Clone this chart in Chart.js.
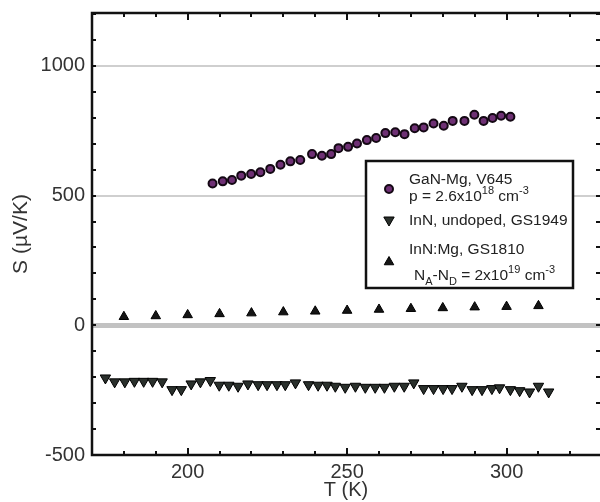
<!DOCTYPE html>
<html lang="en">
<head>
<meta charset="UTF-8">
<title>Seebeck coefficient vs temperature</title>
<style>
    body { margin: 0; background: #fff; }
    canvas { display: block; }
</style>
<script src="https://cdn.jsdelivr.net/npm/chart.js"></script>
</head>
<body>
<canvas id="chart" width="600" height="502"></canvas>
<script>
// GaN-Mg, V645 (circles)
const ganT = [207.8, 211.0, 213.9, 216.8, 219.9, 222.8, 225.9, 229.1, 232.2, 235.3, 239.0, 242.1, 245.0, 247.3, 250.3, 253.1,
              256.2, 259.1, 262.0, 265.1, 268.0, 271.2, 274.0, 277.1, 280.3, 283.1, 286.8, 289.9, 292.8, 295.6, 298.3, 301.2];
const ganS = [547, 555, 560, 577, 583, 590, 603, 619, 632, 637, 660, 654, 660, 683, 688, 701,
              714, 722, 741, 744, 737, 760, 763, 778, 769, 788, 788, 812, 788, 799, 808, 804];

// InN, undoped, GS1949 (down triangles)
const innT = [174.2, 177.1, 180.3, 183.3, 186.2, 189.0, 192.0, 195.1, 198.0, 201.1, 204.0, 207.1, 209.9, 212.9, 215.8, 218.9,
              222.1, 224.9, 228.0, 230.6, 233.8, 237.9, 240.9, 243.7, 246.3, 249.4, 252.6, 255.7, 258.8, 261.7, 264.8, 267.9,
              270.9, 274.0, 277.1, 280.1, 282.9, 286.0, 289.2, 292.3, 295.4, 297.8, 301.2, 304.1, 307.2, 310.0, 313.2];
const innS = [-203, -218, -218, -216, -216, -216, -218, -248, -248, -226, -218, -213, -231, -231, -235, -226,
              -229, -229, -229, -229, -222, -229, -231, -231, -235, -239, -235, -239, -239, -239, -235, -235,
              -222, -244, -244, -244, -244, -235, -248, -248, -244, -241, -248, -252, -257, -235, -257];

// InN:Mg, GS1810 (up triangles)
const mgT = [180, 190, 200, 210, 220, 230, 240, 250, 260, 270, 280, 290, 300, 310];
const mgS = [33, 36, 40, 44, 47, 51, 54, 57, 61, 64, 67, 70, 72, 75];

const xTicks = [200, 250, 300];
const yTicks = [-500, 0, 500, 1000];

const FONT = '"Liberation Sans", Arial, Helvetica, sans-serif';

function pts(xs, ys) {
    return xs.map((x, i) => ({ x: x, y: ys[i] }));
}

// draws text pieces with super/subscripts
function drawRich(ctx, parts, x, y) {
    parts.forEach(([t, k]) => {
        ctx.font = (k ? '11px ' : '15.5px ') + FONT;
        const dy = k === 'sup' ? -7 : (k === 'sub' ? 5 : 0);
        ctx.fillText(t, x, y + dy);
        x += ctx.measureText(t).width;
    });
}

const framePlugin = {
    id: 'frame',
    afterDraw(chart) {
        const ctx = chart.ctx;
        const a = chart.chartArea;
        const xs = chart.scales.x, ys = chart.scales.y;
        ctx.save();
        ctx.strokeStyle = '#111';

        // ticks, all pointing inward
        ctx.lineWidth = 2;
        ctx.beginPath();
        for (let v = 180; v <= xs.max; v += 10) {
            const px = Math.round(xs.getPixelForValue(v));
            const len = v % 50 === 0 ? 7 : 4;
            ctx.moveTo(px, a.bottom); ctx.lineTo(px, a.bottom - len);
            ctx.moveTo(px, a.top); ctx.lineTo(px, a.top + len);
        }
        for (let v = -400; v <= ys.max; v += 100) {
            const py = Math.round(ys.getPixelForValue(v));
            ctx.moveTo(a.left, py); ctx.lineTo(a.left + 4, py);
            ctx.moveTo(a.right, py); ctx.lineTo(a.right - 4, py);
        }
        ctx.stroke();

        // frame (no right side)
        ctx.lineWidth = 2.5;
        ctx.beginPath();
        ctx.moveTo(a.right, a.top);
        ctx.lineTo(a.left, a.top);
        ctx.lineTo(a.left, a.bottom);
        ctx.lineTo(a.right, a.bottom);
        ctx.stroke();

        // legend box
        ctx.fillStyle = '#fff';
        ctx.fillRect(366, 161, 207, 127);
        ctx.lineWidth = 2.5;
        ctx.strokeRect(366, 161, 207, 127);

        const ds = chart.data.datasets;
        const mk = (d, y) => {
            ctx.fillStyle = d.backgroundColor;
            ctx.strokeStyle = d.borderColor;
            ctx.lineWidth = d.borderWidth;
            Chart.helpers.drawPoint(ctx, {
                pointStyle: d.pointStyle, rotation: d.rotation || 0, radius: d.pointRadius, borderWidth: d.borderWidth
            }, 389, y);
        };
        mk(ds[0], 189);
        mk(ds[1], 220);
        mk(ds[2], 262);

        ctx.fillStyle = '#222';
        ctx.textBaseline = 'alphabetic';
        ctx.textAlign = 'left';
        drawRich(ctx, [['GaN-Mg, V645', '']], 409, 184);
        drawRich(ctx, [['p = 2.6x10', ''], ['18', 'sup'], [' cm', ''], ['-3', 'sup']], 409, 201);
        drawRich(ctx, [['InN, undoped, GS1949', '']], 409, 225);
        drawRich(ctx, [['InN:Mg, GS1810', '']], 409, 254);
        drawRich(ctx, [['N', ''], ['A', 'sub'], ['-N', ''], ['D', 'sub'], [' = 2x10', ''], ['19', 'sup'], [' cm', ''], ['-3', 'sup']], 414, 280);
        ctx.restore();
    }
};

const tickFont = { family: FONT, size: 20 };

new Chart(document.getElementById('chart').getContext('2d'), {
    type: 'scatter',
    data: {
        datasets: [
            {
                label: 'GaN-Mg, V645',
                data: pts(ganT, ganS),
                pointStyle: 'circle',
                pointRadius: 4,
                borderWidth: 2,
                backgroundColor: '#6e3074',
                borderColor: '#140814'
            },
            {
                label: 'InN, undoped, GS1949',
                data: pts(innT, innS),
                pointStyle: 'triangle',
                rotation: 180,
                pointRadius: 6,
                borderWidth: 1,
                backgroundColor: '#2a302c',
                borderColor: '#000'
            },
            {
                label: 'InN:Mg, GS1810',
                data: pts(mgT, mgS),
                pointStyle: 'triangle',
                pointRadius: 5.5,
                borderWidth: 1,
                backgroundColor: '#151515',
                borderColor: '#000'
            }
        ]
    },
    options: {
        responsive: false,
        animation: false,
        layout: { autoPadding: false, padding: { top: 13, left: 0, right: 0, bottom: 0 } },
        plugins: { legend: { display: false }, tooltip: { enabled: false } },
        scales: {
            x: {
                type: 'linear',
                min: 170,
                max: 329.3,
                afterBuildTicks: s => { s.ticks = xTicks.map(v => ({ value: v })); },
                afterFit: s => { s.height = 47; s.paddingLeft = 0; s.paddingRight = 0; },
                grid: { display: false, drawTicks: false },
                border: { display: false },
                ticks: { padding: 5, color: '#333', font: tickFont, callback: v => String(v) },
                title: { display: true, text: 'T (K)', color: '#333', font: tickFont, padding: { top: 0, bottom: 0 } }
            },
            y: {
                min: -500,
                max: 1204,
                afterBuildTicks: s => { s.ticks = yTicks.map(v => ({ value: v })); },
                afterFit: s => { s.width = 92; s.paddingTop = 0; s.paddingBottom = 0; },
                grid: {
                    drawTicks: false,
                    color: c => c.tick.value === -500 ? 'rgba(0,0,0,0)' : (c.tick.value === 0 ? '#c2c2c2' : '#cfcfcf'),
                    lineWidth: c => c.tick.value === 0 ? 5 : 2
                },
                border: { display: false },
                ticks: { padding: 7, color: '#333', font: tickFont, callback: v => String(v) },
                title: { display: true, text: 'S (µV/K)', color: '#333', font: { family: FONT, size: 21 }, padding: { top: 9, bottom: 0 } }
            }
        }
    },
    plugins: [framePlugin]
});
</script>
</body>
</html>
